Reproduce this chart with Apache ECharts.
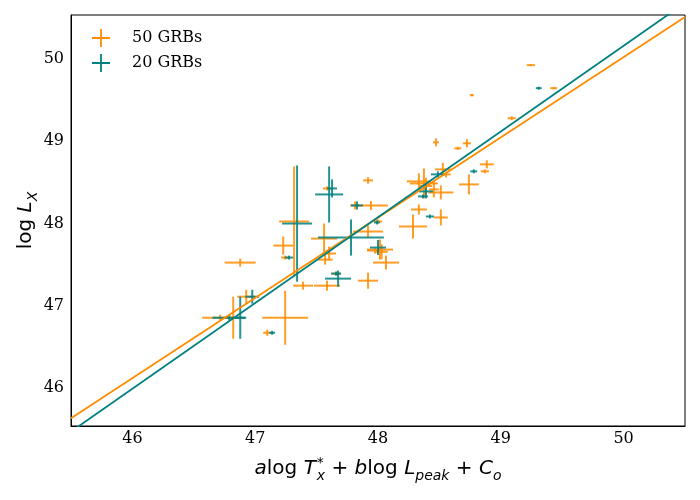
<!DOCTYPE html>
<html>
<head>
<meta charset="utf-8">
<title>GRB correlation</title>
<script src="https://cdn.jsdelivr.net/npm/echarts@6/dist/echarts.min.js"></script>
<style>
    html, body { margin: 0; padding: 0; background: #fff; }
    #chart { width: 700px; height: 500px; }
</style>
</head>
<body>
<div id="chart"></div>
<script>
    // 50 GRBs sample: x, y, x error, y error
    var x50 = [46.715, 46.821, 46.927, 47.244, 47.098, 46.878, 47.228, 47.244, 47.317, 47.390,
               47.585, 47.659, 47.919, 47.569, 47.602, 47.561, 47.919, 47.943, 47.813, 47.919,
               47.585, 48.285, 48.333, 48.016, 47.976, 48.065, 48.000, 48.333, 48.374, 48.455,
               48.512, 48.528, 48.553, 48.512, 48.740, 48.886, 48.870, 48.472, 48.650, 48.724,
               48.764, 49.089, 49.244, 49.431, 48.390, 48.030];
    var y50 = [46.817, 46.817, 47.073, 46.817, 46.634, 47.488, 47.695, 47.549, 47.988, 47.207,
               47.207, 47.354, 47.268, 47.524, 47.598, 47.780, 47.866, 48.183, 48.183, 48.488,
               48.390, 47.927, 48.134, 47.646, 47.634, 47.488, 47.988, 48.476, 48.451, 48.378,
               48.341, 48.622, 48.561, 48.037, 48.439, 48.683, 48.598, 48.951, 48.878, 48.939,
               49.524, 49.244, 49.890, 49.610, 48.420, 47.620];
    var xe50 = [0.146, 0.081, 0.073, 0.187, 0.033, 0.126, 0.081, 0.033, 0.122, 0.081,
                0.106, 0.040, 0.081, 0.061, 0.057, 0.106, 0.122, 0.138, 0.040, 0.040,
                0.033, 0.114, 0.065, 0.106, 0.065, 0.106, 0.033, 0.098, 0.114, 0.040,
                0.102, 0.065, 0.040, 0.057, 0.081, 0.057, 0.033, 0.024, 0.028, 0.033,
                0.016, 0.033, 0.033, 0.028, 0.050, 0.050];
    var ye50 = [0.037, 0.256, 0.085, 0.329, 0.037, 0.049, 0.110, 0.024, 0.670, 0.049,
                0.061, 0.024, 0.098, 0.061, 0.085, 0.183, 0.073, 0.055, 0.049, 0.040,
                0.024, 0.146, 0.061, 0.122, 0.037, 0.085, 0.024, 0.098, 0.183, 0.098,
                0.085, 0.079, 0.037, 0.098, 0.122, 0.049, 0.024, 0.049, 0.018, 0.049,
                0.012, 0.024, 0.012, 0.012, 0.100, 0.090];

    // 20 GRBs sample
    var x20 = [46.789, 46.878, 46.976, 47.138, 47.276, 47.341, 47.602, 47.626, 47.675, 47.659,
               47.780, 47.829, 47.992, 48.000, 48.390, 48.366, 48.488, 48.423, 48.780, 49.309];
    var y20 = [46.817, 46.817, 47.073, 46.634, 47.549, 47.963, 48.317, 48.390, 47.293, 47.354,
               47.793, 48.183, 47.976, 47.671, 48.354, 48.293, 48.561, 48.049, 48.598, 49.610];
    var xe20 = [0.138, 0.040, 0.057, 0.024, 0.033, 0.122, 0.114, 0.040, 0.106, 0.040,
                0.268, 0.049, 0.024, 0.065, 0.057, 0.040, 0.057, 0.033, 0.028, 0.024];
    var ye20 = [0.037, 0.256, 0.085, 0.024, 0.024, 0.707, 0.341, 0.110, 0.098, 0.024,
                0.220, 0.049, 0.024, 0.091, 0.085, 0.024, 0.037, 0.024, 0.024, 0.018];

    // best-fit lines, endpoints at the axis limits
    var fitX = [45.5, 50.5];
    var fit50 = [45.594, 50.476];
    var fit20 = [45.432, 50.647];

    var tickValues = [46, 47, 48, 49, 50];

    var orange = '#ff8c00';
    var teal = '#008080';

    function pack(xs, ys, xe, ye) {
        var out = [];
        for (var i = 0; i < xs.length; i++) {
            out.push([xs[i], ys[i], xe[i], ye[i]]);
        }
        return out;
    }

    function linePoints(ys) {
        return fitX.map(function (x, i) { return [x, ys[i]]; });
    }

    // draw a point as a plain cross of its error bars
    function renderCross(params, api) {
        var x = api.value(0), y = api.value(1);
        var dx = api.value(2), dy = api.value(3);
        var l = api.coord([x - dx, y]), r = api.coord([x + dx, y]);
        var t = api.coord([x, y + dy]), b = api.coord([x, y - dy]);
        var style = { stroke: api.visual('color'), lineWidth: 2, opacity: 0.85 };
        return {
            type: 'group',
            children: [
                { type: 'line', shape: { x1: l[0], y1: l[1], x2: r[0], y2: r[1] }, style: style },
                { type: 'line', shape: { x1: t[0], y1: t[1], x2: b[0], y2: b[1] }, style: style }
            ]
        };
    }

    var plusIcon = 'path://M9,0h2v9h9v2h-9v9h-2v-9h-9v-2h9z';
    var serif = 'DejaVu Serif';
    var sans = 'DejaVu Sans';

    var chart = echarts.init(document.getElementById('chart'));

    var options = {
        animation: false,
        backgroundColor: '#fff',
        grid: {
            left: 71, right: 15, top: 15, bottom: 74,
            show: true, borderColor: '#000', borderWidth: 1
        },
        legend: {
            data: [
                { name: '50 GRBs', icon: plusIcon },
                { name: '20 GRBs', icon: plusIcon }
            ],
            orient: 'vertical',
            left: 87, top: 24,
            itemWidth: 18, itemHeight: 18, itemGap: 7,
            textStyle: { fontFamily: serif, fontSize: 16, color: '#000', padding: [0, 0, 0, 17] }
        },
        xAxis: {
            type: 'value',
            min: 45.5, max: 50.5,
            interval: 1,
            splitLine: { show: false },
            axisTick: { show: false },
            axisLine: { lineStyle: { color: '#000' } },
            axisLabel: {
                fontFamily: serif, fontSize: 16, color: '#000', margin: 5,
                customValues: tickValues
            },
            name: '{it|a}{rm|log}{it| T}{sup|*}{sub|x}{rm| + }{it|b}{rm|log}{it| L}{sub|peak}{rm| + }{it|C}{sub|o}',
            nameLocation: 'middle',
            nameGap: 28,
            nameTextStyle: {
                color: '#000',
                rich: {
                    it: { fontFamily: sans, fontStyle: 'italic', fontSize: 20, lineHeight: 30 },
                    rm: { fontFamily: sans, fontSize: 20, lineHeight: 30 },
                    sub: { fontFamily: sans, fontStyle: 'italic', fontSize: 14, lineHeight: 30, verticalAlign: 'bottom', padding: [0, 0, 1, 0] },
                    sup: { fontFamily: sans, fontSize: 14, lineHeight: 30, verticalAlign: 'top', padding: [2, -7, 0, 1] }
                }
            }
        },
        yAxis: {
            type: 'value',
            min: 45.5, max: 50.5,
            interval: 1,
            splitLine: { show: false },
            axisTick: { show: false },
            axisLine: { lineStyle: { color: '#000' } },
            axisLabel: {
                fontFamily: serif, fontSize: 16, color: '#000', margin: 7,
                customValues: tickValues,
                formatter: function (v) { return '{d|' + v + '}'; },
                rich: {
                    d: { fontFamily: serif, fontSize: 16, color: '#000', padding: [6, 0, 0, 0] }
                }
            },
            name: '{rm|log}{it| L}{sub|X}',
            nameLocation: 'middle',
            nameGap: 30,
            nameMoveOverlap: false,
            nameTextStyle: {
                color: '#000',
                rich: {
                    it: { fontFamily: sans, fontStyle: 'italic', fontSize: 20, lineHeight: 30 },
                    rm: { fontFamily: sans, fontSize: 20, lineHeight: 30 },
                    sub: { fontFamily: sans, fontStyle: 'italic', fontSize: 14, lineHeight: 30, verticalAlign: 'bottom', padding: [0, 0, 1, 0] }
                }
            }
        },
        series: [
            {
                name: '50 GRBs',
                type: 'custom',
                renderItem: renderCross,
                itemStyle: { color: orange },
                encode: { x: 0, y: 1 },
                data: pack(x50, y50, xe50, ye50),
                z: 2
            },
            {
                name: '20 GRBs',
                type: 'custom',
                renderItem: renderCross,
                itemStyle: { color: teal },
                encode: { x: 0, y: 1 },
                data: pack(x20, y20, xe20, ye20),
                z: 3
            },
            {
                name: 'fit 50',
                type: 'line',
                data: linePoints(fit50),
                showSymbol: false,
                lineStyle: { color: orange, width: 1.8 },
                itemStyle: { color: orange },
                clip: true,
                z: 4
            },
            {
                name: 'fit 20',
                type: 'line',
                data: linePoints(fit20),
                showSymbol: false,
                lineStyle: { color: teal, width: 1.8 },
                itemStyle: { color: teal },
                clip: true,
                z: 5
            }
        ]
    };

    chart.setOption(options);
</script>
</body>
</html>
